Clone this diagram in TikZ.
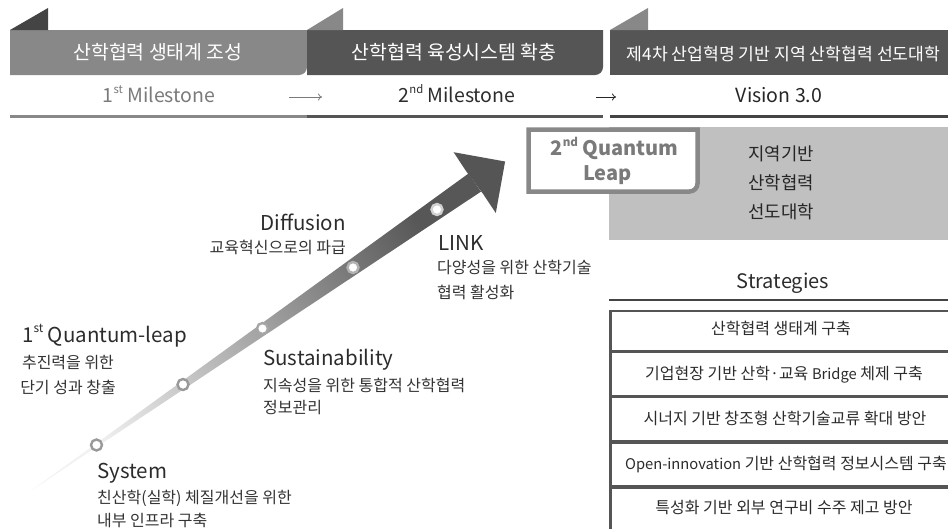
\documentclass[tikz,border=0pt]{standalone}
\usepackage{fontspec}
\setmainfont{Noto Sans CJK KR}
\newfontfamily\lat{Noto Sans CJK KR}[Scale=0.92]
\usepackage{graphicx}
\usetikzlibrary{arrows.meta}
\definecolor{rA}{HTML}{888888}
\definecolor{rB}{HTML}{555555}
\definecolor{rT}{HTML}{444444}
\definecolor{boxgray}{HTML}{C0C0C0}
\definecolor{txt}{HTML}{2C2C2C}
\definecolor{subtxt}{HTML}{333333}
\definecolor{qgray}{HTML}{888888}
\definecolor{qtext}{HTML}{7A7A7A}
\definecolor{mileA}{HTML}{7A7A7A}
\definecolor{sepgray}{HTML}{555555}
\definecolor{headgray}{HTML}{555555}
\newcommand\mysup[1]{\raisebox{0.45em}{\scalebox{0.58}{#1}}}
\newcommand\fs[1]{\fontsize{#1}{#1}\selectfont}
\begin{document}
\begin{tikzpicture}[x=1pt,y=-1pt,
  ribtext/.style={text=white,inner sep=0,font=\fs{19.4}},
  miletext/.style={inner sep=0,font=\fs{19.5}},
  lbl/.style={inner sep=0,text=txt,font=\fs{20.5}},
  subl/.style={inner sep=0,text=subtxt,font=\fs{16}},
  strat/.style={inner sep=0,text=txt,font=\fs{16}},
  vis/.style={inner sep=0,text=black!85,font=\fs{17.8}},
  qtxt/.style={inner sep=0,text=qtext,font=\fs{20}\bfseries},
  dot/.style={circle,fill=white,draw=#1,line width=2.4,minimum size=11,inner sep=0},
  sepline/.style={draw=sepgray,line width=3.5},
]
\useasboundingbox (0,0) rectangle (948,528);
\clip (0,0) rectangle (948,528);

% ---- ribbons ----
\fill[rA] (10,30) -- (307,30) -- (307,67) arc[start angle=0,end angle=90,radius=8] -- (10,75) -- cycle;
\fill[rT] (10,30) -- (48,8) -- (48,30) -- cycle;
\fill[rB] (307,30) -- (603,30) -- (603,67) arc[start angle=0,end angle=90,radius=8] -- (307,75) -- cycle;
\fill[rA] (307,30) -- (343,8) -- (343,30) -- cycle;
\fill[rB] (610,30) -- (948,30) -- (948,75) -- (610,75) -- cycle;
\fill[rA] (610,30) -- (648,8) -- (648,30) -- cycle;

\node[ribtext,anchor=base] (r1) at (158,59.5) {산학협력 생태계 조성};
\node[ribtext,anchor=base] (r2) at (454,59.5) {산학협력 육성시스템 확충};
\node[ribtext,anchor=base,font=\fs{17.2}] (r3) at (783.5,60.5) {제4차 산업혁명 기반 지역 산학협력 선도대학};

% ---- milestones ----
\node[miletext,anchor=base,text=mileA] (m1) at (159,102) {1\mysup{st} Milestone};
\node[miletext,anchor=base,text=txt] (m2) at (457,102) {2\mysup{nd} Milestone};
\node[miletext,anchor=base,text=black!85] (m3) at (779,102) {Vision 3.0};
\coordinate (a1s) at (289,97); \coordinate (a1e) at (322,97);
\coordinate (a2s) at (596,97); \coordinate (a2e) at (616,97);
\draw[mileA,line width=0.8,-{To[length=4,width=7]}] (a1s) -- (a1e);
\draw[black!85,line width=0.8,-{To[length=4,width=7]}] (a2s) -- (a2e);

\draw[rA,line width=3] (10,116.5) -- (307,116.5);
\draw[rB,line width=3] (307,116.5) -- (603,116.5);
\draw[rT,line width=3] (610,116.5) -- (948,116.5);

% ---- vision box ----
\fill[boxgray] (609,127) rectangle (948,240);
\node[vis,anchor=base] (v1) at (781,160.5) {지역기반};
\node[vis,anchor=base] (v2) at (781,189.5) {산학협력};
\node[vis,anchor=base] (v3) at (781,218.5) {선도대학};

\draw[qgray,fill=white,line width=4.5] (528.5,129.5) -- (697.5,129.5) -- (697.5,183.5) arc[start angle=0,end angle=90,radius=8] -- (528.5,191.5) -- cycle;
\node[qtxt,anchor=base] (q1) at (614.5,155) {2\mysup{nd} Quantum};
\node[qtxt,anchor=base] (q2) at (607.5,180) {Leap};

% ---- strategies ----
\node[inner sep=0,anchor=base,text=txt,font=\fs{20}] (st) at (783,288) {Strategies};
\draw[rT,line width=1.2] (609,300) -- (948,300);
\draw[sepgray,line width=3] (610.5,310) -- (610.5,530);
\draw[sepgray,line width=2.5] (609,311) -- (948,311);
\draw[sepline] (609,351.5) -- (948,351.5);
\draw[sepline] (609,396.5) -- (948,396.5);
\draw[sepline] (609,442) -- (948,442);
\draw[sepline] (609,487) -- (948,487);
\node[strat,anchor=base] (s1) at (781,334.9) {산학협력 생태계 구축};
\node[strat,anchor=base] (s2) at (784,379.9) {기업현장 기반 산학·교육 {\lat Bridge} 체제 구축};
\node[strat,anchor=base] (s3) at (785,424.9) {시너지 기반 창조형 산학기술교류 확대 방안};
\node[strat,anchor=base] (s4) at (786,469.9) {{\lat Open-innovation} 기반 산학협력 정보시스템 구축};
\node[strat,anchor=base] (s5) at (784,513.9) {특성화 기반 외부 연구비 수주 제고 방안};

% ---- arrow ----
\shade[bottom color=black!5,middle color=black!34,top color=black!66,shading angle=-55.2]
  (32,490) -- (468.4,173.6) -- (481.0,191.6) -- cycle;
\fill[headgray] (466,171) -- (453.6,152.2) -- (505.1,161.5) -- (495.8,213.0) -- (483.5,194.5) -- cycle;

\node[dot=black!40] (c1) at (96.5,445) {};
\node[dot=black!40] (c2) at (183,384.5) {};
\node[dot=black!35] (c3) at (262.5,328.5) {};
\node[dot=black!30] (c4) at (353,267.5) {};
\node[dot=black!18] (c5) at (437,209.5) {};

% ---- labels ----
\node[lbl,anchor=base east] (dif) at (346,230) {Diffusion};
\node[subl,anchor=base east] (difs) at (346,253.9) {교육혁신으로의 파급};
\node[lbl,anchor=base west] (lnk) at (438,250) {LINK};
\node[subl,anchor=base west] (lnk1) at (437,273.9) {다양성을 위한 산학기술};
\node[subl,anchor=base west] (lnk2) at (437,298.9) {협력 활성화};
\node[lbl,anchor=base west] (ql) at (22,342) {1\mysup{st} Quantum-leap};
\node[subl,anchor=base] (ql1) at (68,368.4) {추진력을 위한};
\node[subl,anchor=base] (ql2) at (68,393.9) {단기 성과 창출};
\node[lbl,anchor=base west] (sus) at (263,365) {Sustainability};
\node[subl,anchor=base west] (sus1) at (263,391.4) {지속성을 위한 통합적 산학협력};
\node[subl,anchor=base west] (sus2) at (263,413.4) {정보관리};
\node[lbl,anchor=base west] (sys) at (97,478) {System};
\node[subl,anchor=base west] (sys1) at (97,503.4) {친산학(실학) 체질개선을 위한};
\node[subl,anchor=base west] (sys2) at (97,526.9) {내부 인프라 구축};
\end{tikzpicture}
\end{document}
